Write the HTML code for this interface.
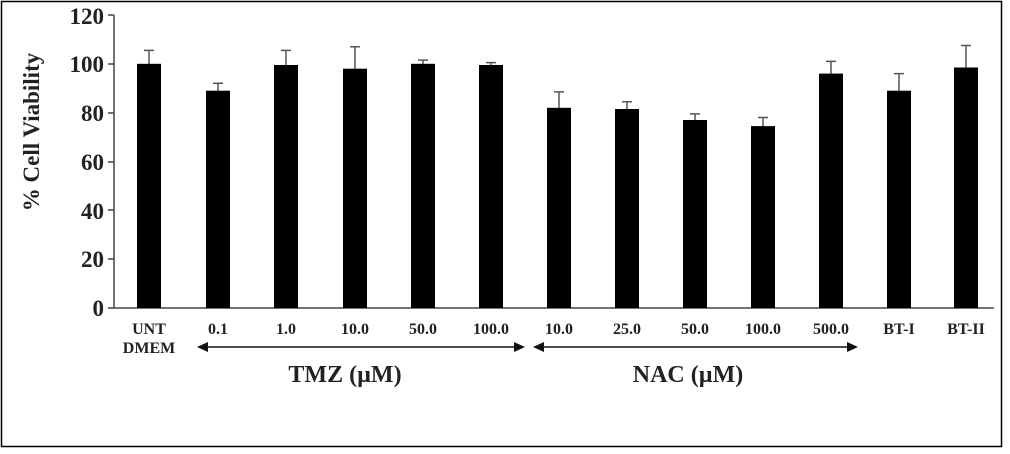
<!DOCTYPE html>
<html><head><style>body{margin:0;background:#fff}</style></head><body>
<svg width="1010" height="449" xmlns="http://www.w3.org/2000/svg" font-family="Liberation Serif, serif" font-weight="bold">
<rect x="1.5" y="1.5" width="1000" height="445" fill="#fff" stroke="#000" stroke-width="1.5"/>
<g fill="#222" font-size="23" text-anchor="end">
<text x="104" y="316">0</text><text x="104" y="267">20</text><text x="104" y="219">40</text><text x="104" y="170">60</text><text x="104" y="121">80</text><text x="104" y="72">100</text><text x="104" y="24">120</text>
</g>
<text transform="translate(39,132) rotate(-90)" font-size="23" text-anchor="middle" fill="#222">% Cell Viability</text>
<g stroke="#444" stroke-width="1.5">
<line x1="114" y1="15" x2="114" y2="308"/><line x1="108" y1="308" x2="994" y2="308"/>
<line x1="108" y1="15" x2="114" y2="15"/><line x1="108" y1="64" x2="114" y2="64"/><line x1="108" y1="113" x2="114" y2="113"/><line x1="108" y1="162" x2="114" y2="162"/><line x1="108" y1="210" x2="114" y2="210"/><line x1="108" y1="259" x2="114" y2="259"/>
</g>
<g stroke="#555" stroke-width="1.5">
<path d="M149 50.4V64M144 50.4H154"/>
<path d="M218 83.3V91M213 83.3H223"/>
<path d="M286 50.4V65M281 50.4H291"/>
<path d="M355 46.7V69M350 46.7H360"/>
<path d="M423 60.1V64M418 60.1H428"/>
<path d="M491 62.6V65M486 62.6H496"/>
<path d="M559 91.9V108M554 91.9H564"/>
<path d="M627 101.7V109M622 101.7H632"/>
<path d="M695 113.9V120M690 113.9H700"/>
<path d="M763 117.5V126M758 117.5H768"/>
<path d="M831 61.4V74M826 61.4H836"/>
<path d="M899 73.6V91M894 73.6H904"/>
<path d="M966 45.5V68M961 45.5H971"/>
</g>
<g fill="#000">
<rect x="137" y="63.8" width="24" height="244.2"/>
<rect x="206" y="90.7" width="24" height="217.3"/>
<rect x="274" y="65" width="24" height="243"/>
<rect x="343" y="68.7" width="24" height="239.3"/>
<rect x="411" y="63.8" width="24" height="244.2"/>
<rect x="479" y="65" width="24" height="243"/>
<rect x="547" y="107.8" width="24" height="200.2"/>
<rect x="615" y="109" width="24" height="199"/>
<rect x="683" y="120" width="24" height="188"/>
<rect x="751" y="126.1" width="24" height="181.9"/>
<rect x="819" y="73.6" width="24" height="234.4"/>
<rect x="887" y="90.7" width="24" height="217.3"/>
<rect x="954" y="67.5" width="24" height="240.5"/>
</g>
<g fill="#222" font-size="16" text-anchor="middle">
<text x="149" y="334">UNT</text><text x="149" y="353">DMEM</text>
<text x="218" y="334">0.1</text><text x="286" y="334">1.0</text><text x="355" y="334">10.0</text><text x="423" y="334">50.0</text><text x="491" y="334">100.0</text>
<text x="559" y="334">10.0</text><text x="627" y="334">25.0</text><text x="695" y="334">50.0</text><text x="763" y="334">100.0</text><text x="831" y="334">500.0</text><text x="899" y="334">BT-I</text><text x="966" y="334">BT-II</text>
<text x="345" y="382" font-size="24">TMZ (µM)</text><text x="688" y="382" font-size="24">NAC (µM)</text>
</g>
<g stroke="#111" stroke-width="1.5"><line x1="205" y1="347" x2="518" y2="347"/><line x1="541" y1="347" x2="850" y2="347"/></g>
<g fill="#111">
<polygon points="197,347 208,342 208,352"/><polygon points="525,347 514,342 514,352"/>
<polygon points="533,347 544,342 544,352"/><polygon points="858,347 847,342 847,352"/>
</g>
</svg>
</body></html>
